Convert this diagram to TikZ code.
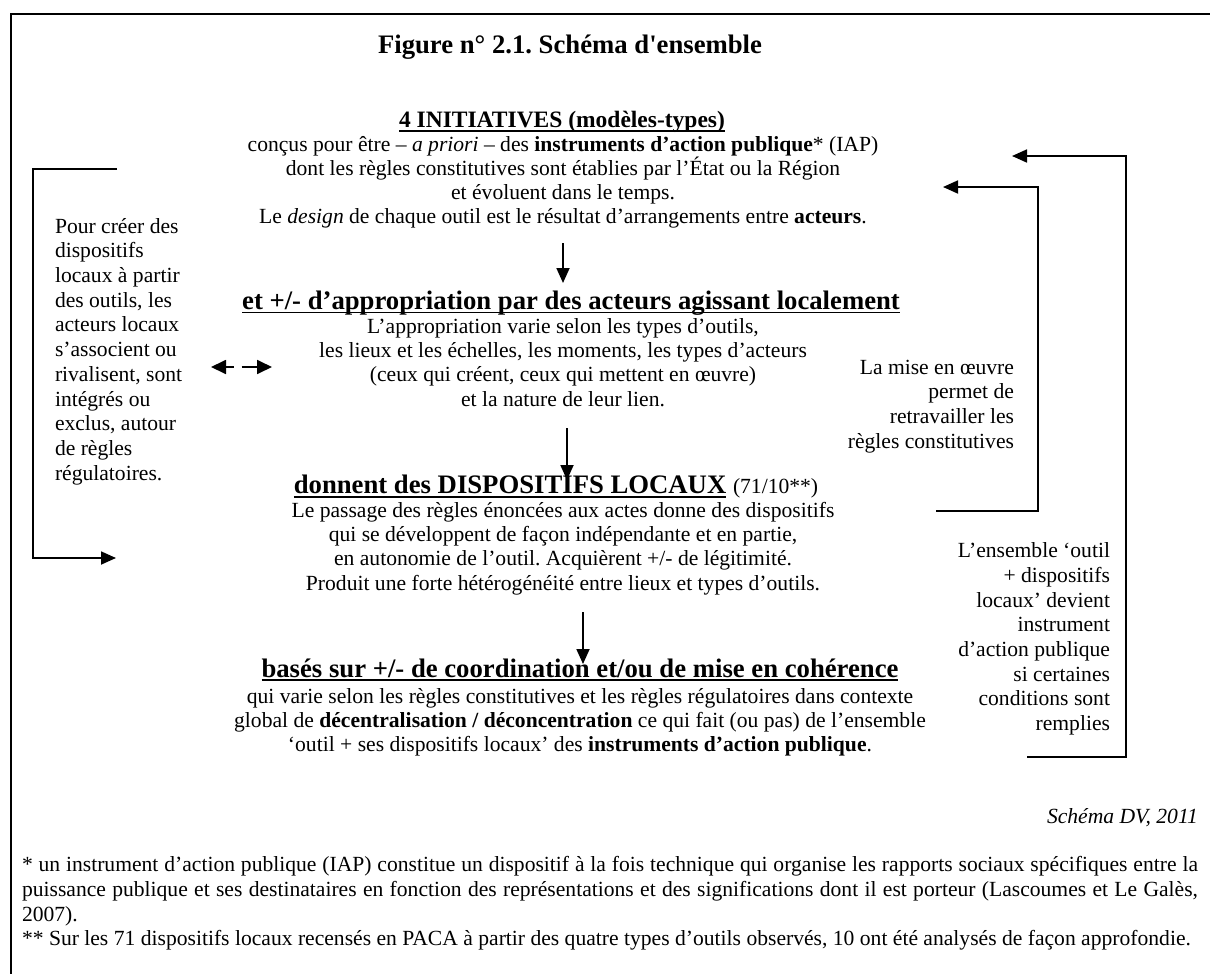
\documentclass[tikz,border=0pt]{standalone}
\usepackage{fontspec}
\setmainfont{Liberation Serif}
\usetikzlibrary{arrows.meta}
\frenchspacing

% heavy underline for the bold headings
\newcommand{\ulhead}[1]{\setbox0=\hbox{#1}\rlap{\rule[-4pt]{\wd0}{1.8pt}}\box0\relax}

\tikzset{
  every node/.style={inner sep=0pt, outer sep=0pt},
  body/.style={font=\fontsize{21.6}{24.2}\selectfont, align=center},
  side/.style={font=\fontsize{21.6}{24.7}\selectfont},
  head/.style={font=\fontsize{26.7}{30}\selectfont\bfseries},
  link/.style={line width=1.8pt, -{Triangle[length=15pt,width=13pt]}},
}

\begin{document}
\begin{tikzpicture}[x=1pt,y=-1pt]
  \useasboundingbox (0,0) rectangle (1210,974);
  % Frame (top and left edges only)
  \draw[line width=2pt] (10,14) -- (1210,14);
  \draw[line width=1.5pt] (11,14) -- (11,974);
  % Title
  \node[head] (title) at (570,47) {Figure n° 2.1. Schéma d\textquotesingle ensemble};
  % Central column
  \node[head, font=\fontsize{23.5}{28}\selectfont\bfseries] (init) at (562,122) {\ulhead{4 INITIATIVES (modèles-types)}};
  \node[body] (initTxt) at (563,182.5) {conçus pour être – \textit{a priori} – des \textbf{instruments d’action publique}* (IAP)\\
    dont les règles constitutives sont établies par l’État ou la Région\\
    et évoluent dans le temps.\\
    Le \textit{design} de chaque outil est le résultat d’arrangements entre \textbf{acteurs}.};
  \node[head] (appro) at (571,303) {\ulhead{et +/- d’appropriation par des acteurs agissant localement}};
  \node[body] (approTxt) at (563,362.5) {L’appropriation varie selon les types d’outils,\\
    les lieux et les échelles, les moments, les types d’acteurs\\
    (ceux qui créent, ceux qui mettent en œuvre)\\
    et la nature de leur lien.};
  \node[head] (dispo) at (556,487) {\ulhead{donnent des DISPOSITIFS LOCAUX} {\normalfont\fontsize{21.6}{24}\selectfont(71/10**)}};
  \node[body] (dispoTxt) at (563,548.5) {Le passage des règles énoncées aux actes donne des dispositifs\\
    qui se développent de façon indépendante et en partie,\\
    en autonomie de l’outil. Acquièrent +/- de légitimité.\\
    Produit une forte hétérogénéité entre lieux et types d’outils.};
  \node[head] (coord) at (580,670) {\ulhead{basés sur +/- de coordination et/ou de mise en cohérence}};
  \node[body] (coordTxt) at (580,722) {qui varie selon les règles constitutives et les règles régulatoires dans contexte\\
    global de \textbf{décentralisation / déconcentration} ce qui fait (ou pas) de l’ensemble\\
    ‘outil + ses dispositifs locaux’ des \textbf{instruments d’action publique}.};
  % Side texts
  \node[side, align=left, anchor=west] (acteurs) at (55,351.5) {Pour créer des\\ dispositifs\\ locaux à partir\\ des outils, les\\ acteurs locaux\\ s’associent ou\\ rivalisent, sont\\ intégrés ou\\ exclus, autour\\ de règles\\ régulatoires.};
  \node[side, align=right, anchor=east] (mise) at (1014,406.5) {La mise en œuvre\\ permet de\\ retravailler les\\ règles constitutives};
  \node[side, align=right, anchor=east] (ensemble) at (1110,639) {L’ensemble ‘outil\\ + dispositifs\\ locaux’ devient\\ instrument\\ d’action publique\\ si certaines\\ conditions sont\\ remplies};
  % Credit and notes
  \node[body, anchor=east] (credit) at (1198,818) {\textit{Schéma DV, 2011}};
  \node[font=\fontsize{21.6}{24.8}\selectfont, text width=1176pt, align=justify] (notes) at (610,903.5) {* un instrument d’action publique (IAP) constitue un dispositif à la fois technique qui organise les rapports sociaux spécifiques entre la\linebreak puissance publique et ses destinataires en fonction des représentations et des significations dont il est porteur (Lascoumes et Le Galès,\linebreak 2007).\par
    ** Sur les 71 dispositifs locaux recensés en PACA à partir des quatre types d’outils observés, 10 ont été analysés de façon approfondie.};
  % Arrow ends
  \coordinate (a1) at (563,243); \coordinate (b1) at (563,283);
  \coordinate (a2) at (567,428); \coordinate (b2) at (567,480);
  \coordinate (a3) at (583,612); \coordinate (b3) at (583,664);
  \coordinate (lTop) at (117,169); \coordinate (lBot) at (116,558);
  \coordinate (rIn) at (936,511); \coordinate (rInTip) at (943,187);
  \coordinate (rOut) at (1027,757); \coordinate (rOutTip) at (1012,156);
  \coordinate (dL) at (211,367); \coordinate (dR) at (272,367);
  % Downward arrows
  \draw[link] (a1) -- (b1);
  \draw[link] (a2) -- (b2);
  \draw[link] (a3) -- (b3);
  % Feedback loops
  \draw[link] (lTop) -- (33,169) |- (lBot);
  \draw[link] (rIn) -| (1038,187) -- (rInTip);
  \draw[link] (rOut) -| (1126,156) -- (rOutTip);
  % Dashed two-way arrow
  \draw[line width=1.8pt, dash pattern=on 8pt off 8pt on 30pt off 1pt,
    {Triangle[length=15pt,width=14pt]}-{Triangle[length=15pt,width=14pt]}] (dL) -- (dR);
\end{tikzpicture}
\end{document}
